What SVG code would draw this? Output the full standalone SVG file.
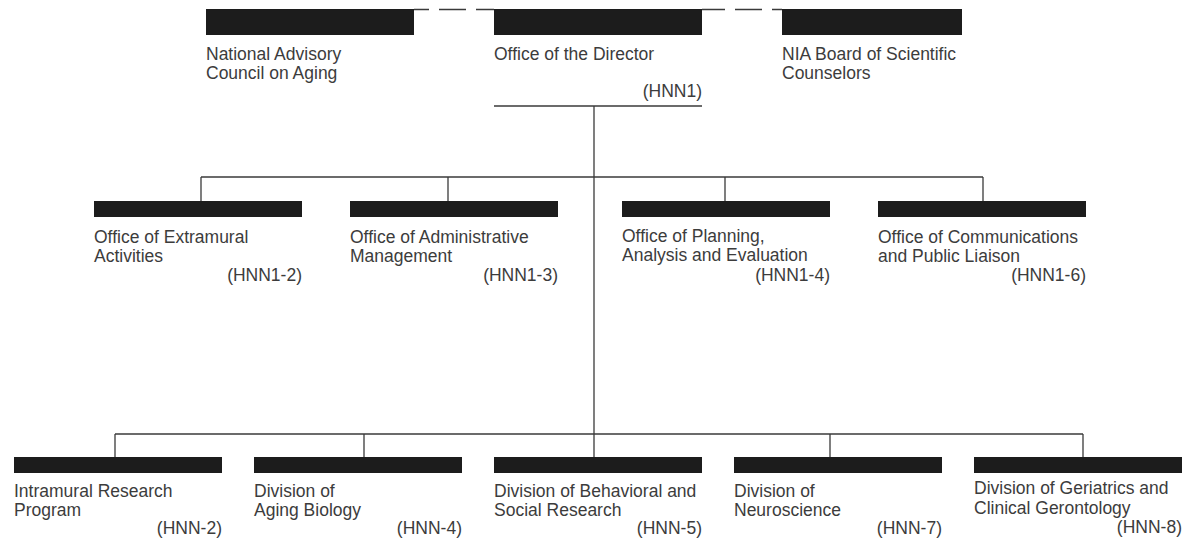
<svg xmlns="http://www.w3.org/2000/svg" width="1184" height="545" viewBox="0 0 1184 545">
<style>
.bar{fill:#1c1c1c}
.t{font-family:"Liberation Sans",Arial,sans-serif;font-size:17.5px;fill:#3c3c3c}
.c{text-anchor:end}
.ln{stroke:#3a3a3a;stroke-width:1.3;fill:none}
.dash{stroke:#3a3a3a;stroke-width:1.3;fill:none;stroke-dasharray:27 10}
</style>
<rect width="1184" height="545" fill="#fff"/>
<g id="connectors">
<line class="dash" x1="414" y1="9.5" x2="494" y2="9.5" stroke-dashoffset="12"/>
<line class="dash" x1="702" y1="9.5" x2="782" y2="9.5" stroke-dashoffset="4"/>
<line class="ln" x1="494" y1="106" x2="702" y2="106"/>
<line class="ln" x1="594" y1="106" x2="594" y2="457"/>
<line class="ln" x1="201" y1="177" x2="983" y2="177"/>
<line class="ln" x1="201" y1="177" x2="201" y2="201"/>
<line class="ln" x1="448" y1="177" x2="448" y2="201"/>
<line class="ln" x1="725" y1="177" x2="725" y2="201"/>
<line class="ln" x1="983" y1="177" x2="983" y2="201"/>
<line class="ln" x1="115" y1="434" x2="1083" y2="434"/>
<line class="ln" x1="115" y1="434" x2="115" y2="457"/>
<line class="ln" x1="364" y1="434" x2="364" y2="457"/>
<line class="ln" x1="830" y1="434" x2="830" y2="457"/>
<line class="ln" x1="1083" y1="434" x2="1083" y2="457"/>
</g>
<g id="nacoa">
<rect class="bar" x="206" y="9" width="208" height="26"/>
<text class="t" x="206" y="60">National Advisory</text>
<text class="t" x="206" y="79">Council on Aging</text>
</g>
<g id="director">
<rect class="bar" x="494" y="9" width="208" height="26"/>
<text class="t" x="494" y="60">Office of the Director</text>
<text class="t c" x="702" y="97">(HNN1)</text>
</g>
<g id="bsc">
<rect class="bar" x="782" y="9" width="180" height="26"/>
<text class="t" x="782" y="60">NIA Board of Scientific</text>
<text class="t" x="782" y="79">Counselors</text>
</g>
<g id="extramural">
<rect class="bar" x="94" y="201" width="208" height="16"/>
<text class="t" x="94" y="243">Office of Extramural</text>
<text class="t" x="94" y="262">Activities</text>
<text class="t c" x="302" y="281">(HNN1-2)</text>
</g>
<g id="admin">
<rect class="bar" x="350" y="201" width="208" height="16"/>
<text class="t" x="350" y="243">Office of Administrative</text>
<text class="t" x="350" y="262">Management</text>
<text class="t c" x="558" y="281">(HNN1-3)</text>
</g>
<g id="planning">
<rect class="bar" x="622" y="201" width="208" height="16"/>
<text class="t" x="622" y="241.5">Office of Planning,</text>
<text class="t" x="622" y="261">Analysis and Evaluation</text>
<text class="t c" x="830" y="280.5">(HNN1-4)</text>
</g>
<g id="communications">
<rect class="bar" x="878" y="201" width="208" height="16"/>
<text class="t" x="878" y="243">Office of Communications</text>
<text class="t" x="878" y="262">and Public Liaison</text>
<text class="t c" x="1086" y="281">(HNN1-6)</text>
</g>
<g id="intramural">
<rect class="bar" x="14" y="457" width="208" height="16"/>
<text class="t" x="14" y="497">Intramural Research</text>
<text class="t" x="14" y="516">Program</text>
<text class="t c" x="222" y="534">(HNN-2)</text>
</g>
<g id="biology">
<rect class="bar" x="254" y="457" width="208" height="16"/>
<text class="t" x="254" y="497">Division of</text>
<text class="t" x="254" y="516">Aging Biology</text>
<text class="t c" x="462" y="534">(HNN-4)</text>
</g>
<g id="behavioral">
<rect class="bar" x="494" y="457" width="208" height="16"/>
<text class="t" x="494" y="497">Division of Behavioral and</text>
<text class="t" x="494" y="516">Social Research</text>
<text class="t c" x="702" y="534">(HNN-5)</text>
</g>
<g id="neuroscience">
<rect class="bar" x="734" y="457" width="208" height="16"/>
<text class="t" x="734" y="497">Division of</text>
<text class="t" x="734" y="516">Neuroscience</text>
<text class="t c" x="942" y="534">(HNN-7)</text>
</g>
<g id="geriatrics">
<rect class="bar" x="974" y="457" width="208" height="16"/>
<text class="t" x="974" y="494">Division of Geriatrics and</text>
<text class="t" x="974" y="513.5">Clinical Gerontology</text>
<text class="t c" x="1182" y="533">(HNN-8)</text>
</g>
</svg>
